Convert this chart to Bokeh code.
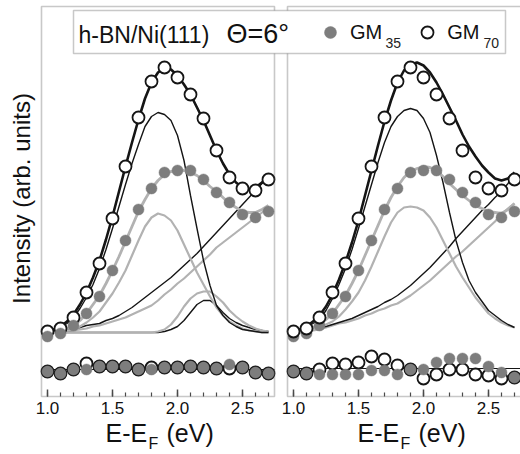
import math
from bokeh.plotting import figure
from bokeh.models import (Range1d, FixedTicker, CustomJSTickFormatter, BoxAnnotation,
                          Label, Legend, LegendItem)
from bokeh.embed import file_html
from bokeh.resources import INLINE

# ---------------- data ----------------
E_PTS = [1.0, 1.1, 1.2, 1.3, 1.4, 1.5, 1.6, 1.7, 1.8, 1.9, 2.0, 2.1, 2.2, 2.3, 2.4, 2.5, 2.6, 2.7]
GM70 = [65, 68, 79, 104, 133, 178, 230, 279, 315, 329, 319, 302, 278, 246, 219, 208, 206, 217]
GM35 = [60, 63, 71, 83, 100, 126, 156, 187, 208, 224, 226, 226, 217, 204, 194, 182, 179, 185]

E_FIT = [1.00, 1.05, 1.10, 1.15, 1.20, 1.25, 1.30, 1.35, 1.40, 1.45, 1.50, 1.55, 1.60, 1.65,
         1.70, 1.75, 1.80, 1.85, 1.90, 1.95, 2.00, 2.05, 2.10, 2.15, 2.20, 2.25, 2.30, 2.35,
         2.40, 2.45, 2.50, 2.55, 2.60, 2.65, 2.70]

# left panel fit
L_TOT70 = [65, 67, 70, 75, 82, 92, 104, 119, 136, 157, 180, 205, 230, 254, 277, 298, 314, 324,
           329, 327, 321, 312, 302, 289, 276, 261, 246, 233, 222, 214, 209, 207, 209, 214, 221]
L_PEAK70 = [65, 67, 69, 73, 79, 88, 99, 112, 128, 147, 168, 190, 212, 233, 252, 270, 280, 284,
            282, 276, 261, 236, 201, 168, 136, 111, 91, 81, 74, 70, 67, 66, 65, 64, 64]
L_SMALL70 = [64, 64, 64, 64, 64, 64, 64, 64, 64, 64, 64, 64, 64, 64, 64, 64, 64, 64,
             65, 67, 70, 76, 84, 92, 96, 96, 91, 84, 78, 74, 71, 69, 67, 66, 65]
L_BG70 = [65, 65, 66, 67, 68, 69, 71, 72, 73, 76, 78, 81, 85, 89, 94, 99, 104, 109,
          114, 119, 125, 131, 137, 143, 150, 157, 164, 171, 178, 185, 192, 199, 206, 213, 220]
L_TOT35 = [63, 64, 65, 68, 71, 76, 83, 92, 101, 113, 126, 140, 155, 170, 185, 197, 208, 216,
           222, 225, 226, 226, 224, 221, 216, 210, 205, 199, 193, 189, 185, 184, 184, 187, 191]
L_PEAK35 = [64, 64, 65, 66, 67, 70, 74, 79, 85, 94, 103, 114, 126, 141, 156, 170, 179, 183,
            181, 176, 166, 152, 138, 124, 112, 100, 89, 81, 75, 71, 68, 66, 65, 64, 64]
L_SMALL35 = [64, 64, 64, 64, 64, 64, 64, 64, 64, 64, 64, 64, 64, 64, 64, 64, 64, 65,
             67, 72, 80, 90, 98, 103, 105, 105, 100, 94, 86, 80, 75, 71, 68, 66, 65]
L_BG35 = [64, 64, 65, 65, 66, 67, 68, 70, 71, 73, 75, 77, 79, 82, 85, 88, 91, 96,
          102, 107, 113, 118, 124, 130, 136, 142, 149, 154, 159, 164, 169, 174, 179, 184, 189]

# right panel fit
R_TOT70 = [65, 67, 70, 75, 81, 90, 102, 117, 134, 154, 176, 201, 226, 251, 275, 296, 314, 326,
           332, 334, 331, 324, 314, 302, 289, 276, 262, 250, 240, 231, 224, 218, 216, 218, 224]
R_PEAK70 = [65, 67, 69, 73, 77, 86, 98, 112, 128, 147, 168, 190, 212, 234, 254, 270, 280, 286,
            288, 286, 278, 264, 241, 214, 184, 156, 134, 116, 104, 95, 86, 81, 76, 72, 69]
R_BG70 = [65, 65, 66, 67, 69, 70, 72, 74, 76, 78, 81, 84, 87, 90, 94, 97, 101, 106,
          111, 117, 123, 129, 136, 143, 150, 158, 165, 172, 179, 186, 192, 199, 205, 213, 222]
R_TOT35 = [63, 64, 66, 69, 72, 77, 83, 92, 101, 113, 126, 141, 156, 171, 186, 199, 210, 219,
           225, 228, 230, 229, 226, 220, 213, 207, 201, 196, 191, 188, 185, 184, 183, 187, 193]
R_PEAK35 = [64, 65, 65, 67, 69, 72, 75, 80, 87, 95, 104, 116, 130, 145, 160, 174, 184, 189,
            190, 189, 186, 179, 169, 156, 143, 130, 119, 109, 99, 91, 83, 78, 74, 71, 69]
R_BG35 = [64, 65, 66, 66, 67, 69, 71, 73, 74, 76, 78, 81, 83, 86, 88, 91, 93, 97,
          101, 106, 111, 116, 122, 128, 134, 140, 145, 151, 157, 163, 169, 175, 182, 188, 193]

# residuals
RES_ZERO_L = 27
RES_ZERO_R = 28
L_RES70 = [25, 23, 27, 33, 30, 30, 30, 27, 29, 29, 29, 30, 29, 28, 28, 29, 24, 23]
L_RES35 = [25, 23, 27, 27, 30, 30, 30, 27, 27, 29, 29, 30, 29, 28, 32, 29, 24, 23]
R_RES70 = [25, 23, 27, 33, 32, 34, 40, 37, 31, 27, 18, 22, 27, 27, 22, 21, 18, 19]
R_RES35 = [25, 23, 22, 22, 22, 22, 26, 26, 22, 27, 27, 34, 38, 38, 38, 30, 24, 19]

MAJOR_TICKS = [1.0, 1.5, 2.0, 2.5]
MINOR_TICKS = [1.0, 1.1, 1.2, 1.3, 1.4, 1.5, 1.6, 1.7, 1.8, 1.9, 2.0, 2.1, 2.2, 2.3, 2.4, 2.5, 2.6, 2.7]

# ---------------- layout helpers (window pixels -> left-panel data coords) ----------------
W, H = 520, 454

def px_x(px):
    return 1.0 + (px - 47) / 130.0

def px_y(py):
    return 396 - py

E_LO = px_x(41)
E_HI = px_x(274)
OFF = px_x(287) - E_LO          # shift of the right panel in left-panel coordinates

FONT = "Liberation Sans"
TXT = "#111111"
BLACK = "#151515"
GRAY_LINE = "#b2b2b2"
GRAY_DOT = "#7d7d7d"
FRAME = "#4a4a4a"

p = figure(width=W, height=H,
           x_range=Range1d(px_x(0), px_x(W)),
           y_range=Range1d(px_y(H), px_y(0)),
           y_axis_location=None,
           min_border_left=0, min_border_right=0, min_border_top=0, min_border_bottom=0,
           output_backend="svg", toolbar_location=None)
p.extra_x_ranges = {"right": Range1d(px_x(0) - OFF, px_x(W) - OFF)}
p.xgrid.visible = False
p.ygrid.visible = False
p.outline_line_color = None
p.background_fill_color = "white"
p.border_fill_color = "white"

# x axis (one axis, ticks for both panels), placed on the panels' bottom edge
xa = p.xaxis[0]
xa.fixed_location = px_y(396)
xa.ticker = FixedTicker(ticks=MAJOR_TICKS + [t + OFF for t in MAJOR_TICKS],
                        minor_ticks=MINOR_TICKS + [t + OFF for t in MINOR_TICKS])
xa.formatter = CustomJSTickFormatter(args=dict(off=OFF, split=(E_HI + E_LO + OFF) / 2),
                                     code="const v = tick > split ? tick - off : tick; return v.toFixed(1);")
xa.axis_line_color = None
xa.major_tick_in = 7
xa.major_tick_out = 0
xa.minor_tick_in = 4
xa.minor_tick_out = 0
xa.major_tick_line_color = FRAME
xa.minor_tick_line_color = FRAME
xa.major_tick_line_width = 1.5
xa.minor_tick_line_width = 1.2
xa.major_label_text_font = FONT
xa.major_label_text_font_size = "17px"
xa.major_label_text_color = TXT
xa.major_label_standoff = 5

# panel frames
p.add_layout(BoxAnnotation(left=E_LO, right=E_HI, bottom=px_y(396), top=px_y(6),
                           fill_alpha=0, line_color=FRAME, line_width=1.6))
p.add_layout(BoxAnnotation(left=E_LO + OFF, right=px_x(535), bottom=px_y(396), top=px_y(6),
                           fill_alpha=0, line_color=FRAME, line_width=1.6))


def draw_panel(rng, tot70, peak70, bg70, tot35, peak35, bg35, res70, res35, res_zero,
               small70=None, small35=None, gray_on_top=True):
    kw = {} if rng is None else {"x_range_name": rng}
    p.line(E_FIT, bg35, line_color=GRAY_LINE, line_width=2.2, **kw)
    p.line(E_FIT, bg70, line_color=BLACK, line_width=1.4, **kw)
    if small70 is not None:
        p.line(E_FIT, small70, line_color=BLACK, line_width=1.4, **kw)
    if small35 is not None:
        p.line(E_FIT, small35, line_color=GRAY_LINE, line_width=2.2, **kw)
    p.line(E_FIT, peak35, line_color=GRAY_LINE, line_width=2.2, **kw)
    p.line(E_FIT, peak70, line_color=BLACK, line_width=1.4, **kw)
    p.line(E_FIT, tot35, line_color=GRAY_LINE, line_width=2.8, **kw)
    p.line(E_FIT, tot70, line_color=BLACK, line_width=2.6, **kw)
    p.line([E_LO, E_HI], [res_zero, res_zero], line_color=BLACK, line_width=1.2, **kw)

    def open_pts(y):
        return p.scatter(E_PTS, y, marker="circle", size=12, fill_color="white",
                         line_color=BLACK, line_width=1.8, **kw)

    def gray_pts(y):
        return p.scatter(E_PTS, y, marker="circle", size=11, fill_color=GRAY_DOT,
                         line_color=GRAY_DOT, line_width=0.5, **kw)

    if gray_on_top:
        r70 = open_pts(GM70)
        r35 = gray_pts(GM35)
    else:
        r35 = gray_pts(GM35)
        r70 = open_pts(GM70)
    open_pts(res70)
    gray_pts(res35)
    return r35, r70


r35L, r70L = draw_panel(None, L_TOT70, L_PEAK70, L_BG70, L_TOT35, L_PEAK35, L_BG35,
                        L_RES70, L_RES35, RES_ZERO_L, L_SMALL70, L_SMALL35, gray_on_top=True)
draw_panel("right", R_TOT70, R_PEAK70, R_BG70, R_TOT35, R_PEAK35, R_BG35,
           R_RES70, R_RES35, RES_ZERO_R, gray_on_top=False)

# y-axis title
p.add_layout(Label(x=px_x(21), y=px_y(198), text="Intensity (arb. units)", text_font=FONT,
                   text_font_size="24px", text_align="center", text_baseline="alphabetic",
                   angle=math.pi / 2, text_color=TXT))

# x-axis titles with subscript
for x0 in (105, 357):
    p.add_layout(Label(x=px_x(x0), y=px_y(432), text="E-E", text_font=FONT,
                       text_font_size="25px", text_baseline="alphabetic", text_color=TXT))
    p.add_layout(Label(x=px_x(x0 + 43), y=px_y(443), text="F", text_font=FONT,
                       text_font_size="16px", text_baseline="alphabetic", text_color=TXT))
    p.add_layout(Label(x=px_x(x0 + 61), y=px_y(432), text="(eV)", text_font=FONT,
                       text_font_size="25px", text_baseline="alphabetic", text_color=TXT))

# legend box spanning both panels
p.add_layout(BoxAnnotation(left=px_x(73), right=px_x(505), top=px_y(10), bottom=px_y(53),
                           fill_color="white", fill_alpha=1, line_color=FRAME, line_width=1.5))
p.add_layout(Label(x=px_x(78), y=px_y(34), text="h-BN/Ni(111)", text_font=FONT,
                   text_font_size="23px", text_baseline="alphabetic", text_color=TXT))
p.add_layout(Label(x=px_x(226), y=px_y(33), text="\u0398=6\u00b0", text_font=FONT,
                   text_font_size="27px", text_baseline="alphabetic", text_color=TXT))
p.add_layout(Label(x=px_x(385), y=px_y(42), text="35", text_font=FONT,
                   text_font_size="14px", text_baseline="alphabetic", text_color="#222222"))
p.add_layout(Label(x=px_x(483), y=px_y(42), text="70", text_font=FONT,
                   text_font_size="14px", text_baseline="alphabetic", text_color="#222222"))

legend = Legend(items=[LegendItem(label="GM", renderers=[r35L]),
                       LegendItem(label="GM", renderers=[r70L])],
                location=(315, H - 47), orientation="horizontal",
                padding=0, margin=0, spacing=30, glyph_width=30, glyph_height=30,
                label_standoff=5, label_height=20,
                label_text_font=FONT, label_text_font_size="20px", label_text_color=TXT,
                background_fill_alpha=0, border_line_alpha=0)
p.add_layout(legend)

open("out.html", "w").write(file_html(p, INLINE))
